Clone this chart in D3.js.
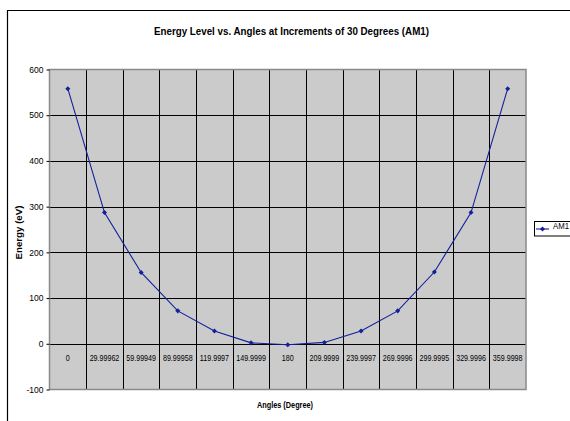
<!DOCTYPE html>
<html>
<head>
<meta charset="utf-8">
<script src="https://cdn.jsdelivr.net/npm/d3@7"></script>
<style>
  html, body { margin: 0; padding: 0; background: #fff; }
  svg { display: block; font-family: "Liberation Sans", Arial, sans-serif; }
</style>
</head>
<body>
<svg id="chart" width="570" height="421"></svg>
<script>
const categories = ["0", "29.99962", "59.99949", "89.99958", "119.9997", "149.9999", "180",
  "209.9999", "239.9997", "269.9996", "299.9995", "329.9996", "359.9998"];
const am1 = [558, 287, 156, 72, 28, 2, -2, 3, 28, 72, 157, 287, 558];
const yTicks = [-100, 0, 100, 200, 300, 400, 500, 600];
const seriesName = "AM1";
const titleText = "Energy Level vs. Angles at Increments of 30 Degrees (AM1)";
const xTitle = "Angles (Degree)";
const yTitle = "Energy (eV)";

const svg = d3.select("#chart");
const pL = 49.5, pR = 526, pT = 69.5, pB = 389.5;
const lineColor = "#12209a";

// outer chart border (left + top visible)
svg.append("path").attr("d", "M7.5,421 V10.5 H570")
  .attr("fill", "none").attr("stroke", "#000").attr("stroke-width", 1.2);

const x = d3.scaleBand().domain(categories).range([pL, pR]).padding(0);
const y = d3.scaleLinear().domain([-100, 600]).range([pB, pT]);

// plot background
svg.append("rect").attr("x", pL).attr("y", pT)
  .attr("width", pR - pL).attr("height", pB - pT)
  .attr("fill", "#cbcbcb");

// horizontal gridlines
svg.append("g").selectAll("line").data(yTicks.filter(d => d > -100 && d < 600)).join("line")
  .attr("x1", pL).attr("x2", pR)
  .attr("y1", d => Math.round(y(d)) + 0.5).attr("y2", d => Math.round(y(d)) + 0.5)
  .attr("stroke", "#000").attr("stroke-width", 1);

// vertical gridlines at category boundaries
svg.append("g").selectAll("line").data(categories.slice(1)).join("line")
  .attr("x1", d => Math.round(x(d)) + 0.5).attr("x2", d => Math.round(x(d)) + 0.5)
  .attr("y1", pT).attr("y2", pB)
  .attr("stroke", "#000").attr("stroke-width", 1);

// plot border
svg.append("rect").attr("x", pL).attr("y", pT)
  .attr("width", pR - pL).attr("height", pB - pT)
  .attr("fill", "none").attr("stroke", "#8a8a8a").attr("stroke-width", 1.5);

// y axis
const yAxis = d3.axisLeft(y).tickValues(yTicks).tickFormat(d => String(d)).tickSize(3).tickPadding(3);
const gy = svg.append("g").attr("transform", `translate(${pL},0)`).call(yAxis);
gy.select(".domain").remove();
gy.selectAll(".tick line").attr("stroke", "#000");
gy.selectAll(".tick text").attr("font-size", "8.5px").attr("fill", "#000")
  .attr("font-family", "Liberation Sans, Arial, sans-serif");

// category labels (drawn just below the zero line)
const gx = svg.append("g").attr("transform", `translate(0,${y(0)})`)
  .call(d3.axisBottom(x).tickSize(0).tickPadding(0));
gx.select(".domain").remove();
gx.selectAll(".tick text")
  .attr("font-size", "8.5px").attr("fill", "#000")
  .attr("font-family", "Liberation Sans, Arial, sans-serif")
  .attr("dy", "0")
  .attr("y", 0)
  .attr("transform", "translate(0,17.5) scale(0.84,1)");

// line
const line = d3.line().x((d, i) => x(categories[i]) + x.bandwidth() / 2).y(d => y(d));
svg.append("path").datum(am1).attr("d", line)
  .attr("fill", "none").attr("stroke", lineColor).attr("stroke-width", 1.1);

const diamond = d3.symbol().type(d3.symbolDiamond2).size(16);
svg.append("g").selectAll("path").data(am1).join("path")
  .attr("d", diamond)
  .attr("transform", (d, i) => `translate(${x(categories[i]) + x.bandwidth() / 2},${y(d)})`)
  .attr("fill", lineColor);

// title
svg.append("text").attr("x", 291.5).attr("y", 35).attr("text-anchor", "middle")
  .attr("font-size", "11px").attr("font-weight", "bold")
  .attr("textLength", 275).attr("lengthAdjust", "spacingAndGlyphs")
  .text(titleText);

// x axis title
svg.append("text").attr("x", 285).attr("y", 408).attr("text-anchor", "middle")
  .attr("font-size", "8.5px").attr("font-weight", "bold")
  .attr("textLength", 56).attr("lengthAdjust", "spacingAndGlyphs")
  .text(xTitle);

// y axis title
svg.append("text").attr("transform", "translate(21.5,232.5) rotate(-90)")
  .attr("text-anchor", "middle")
  .attr("font-size", "8.5px").attr("font-weight", "bold")
  .attr("textLength", 54).attr("lengthAdjust", "spacingAndGlyphs")
  .text(yTitle);

// legend
const lg = svg.append("g");
lg.append("rect").attr("x", 534.5).attr("y", 221.5).attr("width", 50).attr("height", 14.5)
  .attr("fill", "#fff").attr("stroke", "#000").attr("stroke-width", 1);
lg.append("line").attr("x1", 536).attr("x2", 549).attr("y1", 229).attr("y2", 229)
  .attr("stroke", lineColor).attr("stroke-width", 1.1);
lg.append("path").attr("d", diamond).attr("transform", "translate(542.5,229)").attr("fill", lineColor);
lg.append("text").attr("x", 553).attr("y", 229).attr("font-size", "8.5px")
  .attr("textLength", 16).attr("lengthAdjust", "spacingAndGlyphs")
  .text(seriesName);
</script>
</body>
</html>
